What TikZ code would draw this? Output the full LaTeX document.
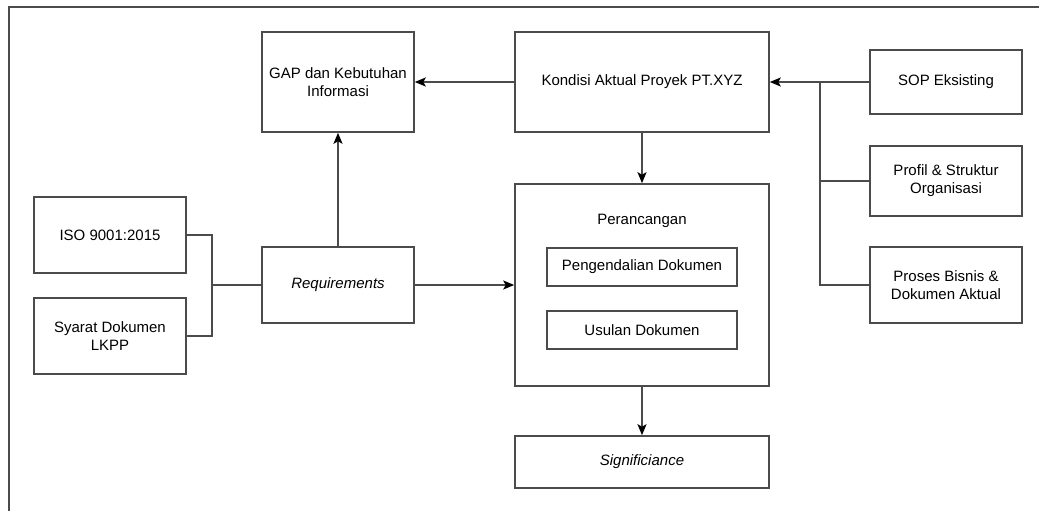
\documentclass[tikz,border=0pt]{standalone}
\usepackage{fontspec}
\setmainfont{Liberation Sans}
\usetikzlibrary{arrows.meta}
\definecolor{ln}{RGB}{75,75,75}
\tikzset{
  box/.style={draw=ln, line width=1.6pt, fill=white, inner sep=0pt, align=center,
    font=\fontsize{15}{18}\selectfont, text=black},
  conn/.style={draw=ln, line width=1.7pt},
  arr/.style={conn, -{Stealth[length=11pt,width=9pt,inset=2.5pt,fill=black,color=black]}},
}
\begin{document}
\begin{tikzpicture}[x=1pt,y=-1pt]
\useasboundingbox (0,0) rectangle (1039,511);
% frame
\draw[conn] (9,511) -- (9,7) -- (1039,7);
% boxes
\node[box, minimum width=152, minimum height=100] (gap) at (338,82) {GAP dan Kebutuhan\\Informasi};
\node[box, minimum width=254, minimum height=100] (kon) at (642,82) {Kondisi Aktual Proyek PT.XYZ};
\node[box, minimum width=152, minimum height=64] (sop) at (946,82) {SOP Eksisting};
\node[box, minimum width=152, minimum height=70] (pro) at (946,181) {Profil \& Struktur\\Organisasi};
\node[box, minimum width=152, minimum height=76] (bis) at (946,285) {Proses Bisnis \&\\Dokumen Aktual};
\node[box, minimum width=152, minimum height=76] (iso) at (110,235) {ISO 9001:2015};
\node[box, minimum width=152, minimum height=76] (syr) at (110,336) {Syarat Dokumen\\LKPP};
\node[box, minimum width=152, minimum height=76] (req) at (338,285) {\itshape Requirements};
\node[box, minimum width=254, minimum height=202] (per) at (642,285) {};
\node[font=\fontsize{15}{18}\selectfont, inner sep=0pt] (perl) at (642,221) {Perancangan};
\node[box, minimum width=190, minimum height=38] (pen) at (642,267) {Pengendalian Dokumen};
\node[box, minimum width=190, minimum height=38] (usu) at (642,330) {Usulan Dokumen};
\node[box, minimum width=254, minimum height=52] (sig) at (642,462) {\itshape Significiance};
% connectors
\draw[arr] (kon.west) -- (gap.east);
\coordinate (jr) at (820,82);
\draw[arr] (sop.west) -- (kon.east);
\draw[conn] (jr) -- (jr |- bis.west) -- (bis.west);
\draw[conn] (jr |- pro.west) -- (pro.west);
\coordinate (jl) at (212,285);
\draw[conn] (iso.east) -| (jl) |- (syr.east);
\draw[conn] (jl) -- (req.west);
\draw[arr] (req.north) -- (gap.south);
\draw[arr] (req.east) -- (req.east -| per.west);
\draw[arr] (kon.south) -- (per.north);
\draw[arr] (per.south) -- (sig.north);
\end{tikzpicture}
\end{document}
